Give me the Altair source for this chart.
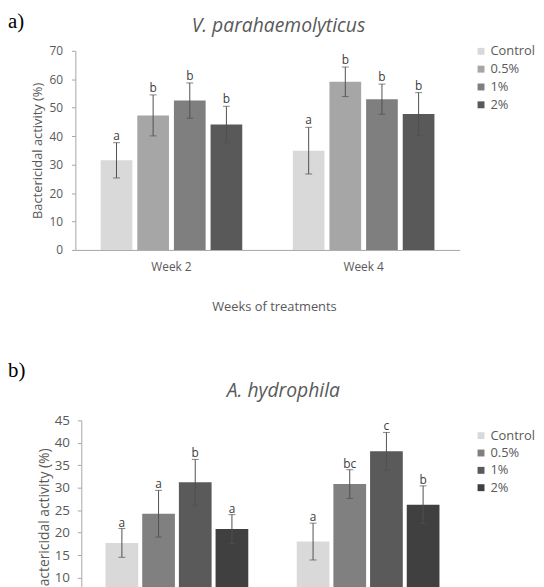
import altair as alt
import pandas as pd

weeks = ["Week 2", "Week 4"]
treatments = ["Control", "0.5%", "1%", "2%"]

# Panel a: V. parahaemolyticus
a_mean_w2 = [31.5, 47.3, 52.5, 44.1]
a_mean_w4 = [34.9, 59.1, 53.0, 47.8]
a_err_w2 = [6.2, 7.2, 6.2, 6.4]
a_err_w4 = [8.2, 5.2, 5.3, 7.5]
a_let_w2 = ["a", "b", "b", "b"]
a_let_w4 = ["a", "b", "b", "b"]
a_colors = ["#d9d9d9", "#a6a6a6", "#7f7f7f", "#595959"]

# Panel b: A. hydrophila
b_mean_w2 = [17.7, 24.2, 31.2, 20.8]
b_mean_w4 = [18.0, 30.8, 38.1, 26.2]
b_err_w2 = [3.2, 5.2, 5.1, 3.2]
b_err_w4 = [4.1, 3.2, 4.2, 4.2]
b_let_w2 = ["a", "a", "b", "a"]
b_let_w4 = ["a", "bc", "c", "b"]
b_colors = ["#d9d9d9", "#808080", "#5a5a5a", "#404040"]

FONT = "Open Sans"
GREY = "#595959"
AXIS = "#a6a6a6"
ERR = "#505050"


def make_df(m2, m4, e2, e4, l2, l4):
    rows = []
    for w, ms, es, ls in [(weeks[0], m2, e2, l2), (weeks[1], m4, e4, l4)]:
        for t, m, e, l in zip(treatments, ms, es, ls):
            rows.append({"week": w, "treatment": t, "mean": m,
                         "lo": m - e, "hi": m + e, "letter": l})
    return pd.DataFrame(rows)


def panel(df, colors, w, h, x0, dmax, step, tag, title, title_x, title_y,
          tag_y, pin, pout, leg_x, leg_y, leg_row, lab_pad, ytitle_x,
          let_dy, tick_fs, ytitle_fs):
    ytitle = "Bactericidal activity (%)"
    yscale = alt.Scale(domain=[0, dmax], nice=False, zero=True)
    yaxis = alt.Axis(values=list(range(0, dmax + 1, step)),
                     grid=False, tickSize=4, tickColor=AXIS,
                     domainColor=AXIS, labelColor=GREY, offset=-x0,
                     labelFont=FONT, labelFontSize=tick_fs,
                     labelPadding=lab_pad, titleFont=FONT,
                     titleFontSize=ytitle_fs, titleFontWeight="normal",
                     titleColor=GREY, titleX=ytitle_x,
                     titleY=h / 2, titleBaseline="middle")

    def Y(field):
        return alt.Y(field, scale=yscale, title=ytitle, axis=yaxis)

    base = alt.Chart(df).encode(
        x=alt.X("week:N", sort=weeks,
                scale=alt.Scale(paddingInner=0, paddingOuter=0,
                                range=[x0, w]),
                axis=alt.Axis(title="Weeks of treatments", labelAngle=0,
                              ticks=False, labelPadding=12, labelFontSize=12,
                              labelColor=GREY, labelFont=FONT,
                              domainColor=AXIS, titleFont=FONT,
                              titleFontSize=13, titleFontWeight="normal",
                              titleColor=GREY, titleX=(x0 + w) / 2 + 6.5,
                              titleY=61, titleBaseline="alphabetic")),
        xOffset=alt.XOffset("treatment:N", sort=treatments,
                            scale=alt.Scale(paddingInner=pin,
                                            paddingOuter=pout)),
    )
    bars = base.mark_bar().encode(
        y=Y("mean:Q"),
        color=alt.Color("treatment:N", sort=treatments,
                        scale=alt.Scale(domain=treatments, range=colors),
                        legend=alt.Legend(title=None, orient="none",
                                          legendX=leg_x, legendY=leg_y,
                                          symbolType="square", symbolSize=49,
                                          symbolStrokeWidth=0,
                                          labelFont=FONT, labelFontSize=13,
                                          labelColor=GREY, rowPadding=leg_row,
                                          labelOffset=3, padding=0)),
    )
    rules = base.mark_rule(color=ERR, strokeWidth=1).encode(
        y=Y("lo:Q"), y2="hi:Q")
    cap_hi = base.mark_tick(color=ERR, size=7, thickness=1).encode(
        y=Y("hi:Q"))
    cap_lo = base.mark_tick(color=ERR, size=7, thickness=1).encode(
        y=Y("lo:Q"))
    letters = base.mark_text(baseline="alphabetic", dy=let_dy, fontSize=12,
                             font=FONT, color="#404040").encode(
        y=Y("hi:Q"), text="letter:N")
    tag_txt = alt.Chart(pd.DataFrame({"t": [tag]})).mark_text(
        font="Liberation Serif", fontSize=21, color="#000000",
        align="left", baseline="top").encode(
        x=alt.value(-68), y=alt.value(tag_y), text="t:N")
    title_txt = alt.Chart(pd.DataFrame({"t": [title]})).mark_text(
        font=FONT, fontSize=19.5, fontStyle="italic", color=GREY,
        align="center", baseline="alphabetic").encode(
        x=alt.value(title_x), y=alt.value(title_y), text="t:N")
    return alt.layer(bars, rules, cap_hi, cap_lo, letters, tag_txt,
                     title_txt).properties(width=w, height=h)


df_a = make_df(a_mean_w2, a_mean_w4, a_err_w2, a_err_w4, a_let_w2, a_let_w4)
df_b = make_df(b_mean_w2, b_mean_w4, b_err_w2, b_err_w4, b_let_w2, b_let_w4)

pa = panel(df_a, a_colors, 388, 201, 0, 70, 10, "a)", "V. parahaemolyticus",
           205, -19, -40, 5 / 37, 0.69, 403, -6, 4, 9, -38, -3, 12, 13)
pb = panel(df_b, b_colors, 392, 204, 6, 45, 5, "b)", "A. hydrophila",
           210, -24, -61, 4 / 37, 0.66, 403, 9, 3.5, 8, -37, -2, 13.5, 14)

chart = alt.vconcat(pa, pb, spacing=47, padding=0).resolve_scale(
    color="independent", x="independent", y="independent",
    xOffset="independent").configure_view(stroke=None)

chart.save("out.html", embed_options={"renderer": "svg", "actions": False})
